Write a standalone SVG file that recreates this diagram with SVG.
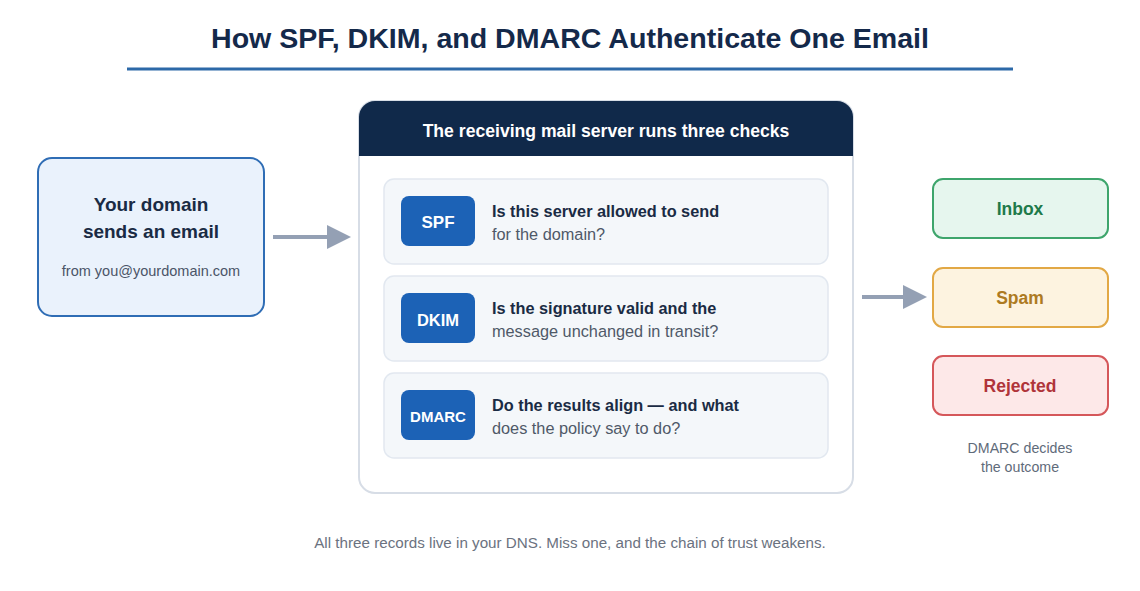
<svg xmlns="http://www.w3.org/2000/svg" width="1140" height="591" viewBox="0 0 1140 591">
<defs>
<style>
text{font-family:"Liberation Sans",Arial,sans-serif}
.title{font-size:28px;font-weight:bold;fill:#14294a}
.h{font-size:19px;font-weight:bold;fill:#1a2b44}
.sub{font-size:14.5px;fill:#4a5568}
.card{fill:#f4f7fa;stroke:#e2e8f0;stroke-width:1.5}
.badge{fill:#1c62b6}
.bt{font-weight:bold;fill:#fff}
.q1{font-size:16.3px;font-weight:bold;fill:#1a2b44}
.q2{font-size:16.3px;fill:#4f5968}
.conn{stroke:#94a0b4;stroke-width:4;fill:none}
.out{font-size:17.5px;font-weight:bold}
.note{font-size:14.2px;fill:#5f6b7a}
</style>
<marker id="ah" markerWidth="6" markerHeight="6" refX="1" refY="3" orient="auto" markerUnits="strokeWidth" viewBox="0 0 6 6">
<path d="M0,0 L6,3 L0,6 Z" fill="#94a0b4"/>
</marker>
</defs>
<rect width="1140" height="591" fill="#fff"/>
<text class="title" x="570" y="48" text-anchor="middle" textLength="718" lengthAdjust="spacingAndGlyphs">How SPF, DKIM, and DMARC Authenticate One Email</text>
<rect x="127" y="67.5" width="886" height="3" fill="#2c69a8"/>

<g id="sender">
<rect x="38" y="158" width="226" height="158" rx="14" fill="#eaf2fc" stroke="#2f6db5" stroke-width="2"/>
<text class="h" x="151" y="211" text-anchor="middle">Your domain</text>
<text class="h" x="151" y="238" text-anchor="middle">sends an email</text>
<text class="sub" x="151" y="276" text-anchor="middle">from you@yourdomain.com</text>
</g>

<g id="connectors">
<line class="conn" x1="273" y1="237" x2="331" y2="237" marker-end="url(#ah)"/>
<line class="conn" x1="862" y1="297" x2="907" y2="297" marker-end="url(#ah)"/>
</g>

<g id="server">
<rect x="359" y="101" width="494" height="392" rx="16" fill="#fff" stroke="#d7dde6" stroke-width="2"/>
<path d="M359,156 V117 A16,16 0 0 1 375,101 H837 A16,16 0 0 1 853,117 V156 Z" fill="#10294a"/>
<text x="606" y="137" text-anchor="middle" font-size="17.6" font-weight="bold" fill="#fff">The receiving mail server runs three checks</text>
</g>

<g id="spf">
<rect class="card" x="384" y="179" width="444" height="85" rx="10"/>
<rect class="badge" x="401" y="196" width="74" height="50" rx="8"/>
<text class="bt" x="438" y="227.5" text-anchor="middle" font-size="17">SPF</text>
<text class="q1" x="492" y="217">Is this server allowed to send</text>
<text class="q2" x="492" y="240">for the domain?</text>
</g>

<g id="dkim">
<rect class="card" x="384" y="276" width="444" height="85" rx="10"/>
<rect class="badge" x="401" y="293" width="74" height="50" rx="8"/>
<text class="bt" x="438" y="325.5" text-anchor="middle" font-size="16.5">DKIM</text>
<text class="q1" x="492" y="314">Is the signature valid and the</text>
<text class="q2" x="492" y="337">message unchanged in transit?</text>
</g>

<g id="dmarc">
<rect class="card" x="384" y="373" width="444" height="85" rx="10"/>
<rect class="badge" x="401" y="390" width="74" height="50" rx="8"/>
<text class="bt" x="438" y="422" text-anchor="middle" font-size="15">DMARC</text>
<text class="q1" x="492" y="411">Do the results align — and what</text>
<text class="q2" x="492" y="434">does the policy say to do?</text>
</g>

<g id="inbox">
<rect x="933" y="179" width="175" height="59" rx="10" fill="#e6f6ee" stroke="#3ea56c" stroke-width="2"/>
<text class="out" x="1020" y="215" text-anchor="middle" fill="#1e7a4a">Inbox</text>
</g>
<g id="spam">
<rect x="933" y="268" width="175" height="59" rx="10" fill="#fdf3e0" stroke="#e2a845" stroke-width="2"/>
<text class="out" x="1020" y="304" text-anchor="middle" fill="#ad7a22">Spam</text>
</g>
<g id="rejected">
<rect x="933" y="356" width="175" height="59" rx="10" fill="#fde8e8" stroke="#d5575a" stroke-width="2"/>
<text class="out" x="1020" y="392" text-anchor="middle" fill="#b0343a">Rejected</text>
</g>

<text class="note" x="1020" y="453" text-anchor="middle">DMARC decides</text>
<text class="note" x="1020" y="472" text-anchor="middle">the outcome</text>

<text x="570" y="548" text-anchor="middle" font-size="15.2" fill="#6b7280">All three records live in your DNS. Miss one, and the chain of trust weakens.</text>
</svg>
